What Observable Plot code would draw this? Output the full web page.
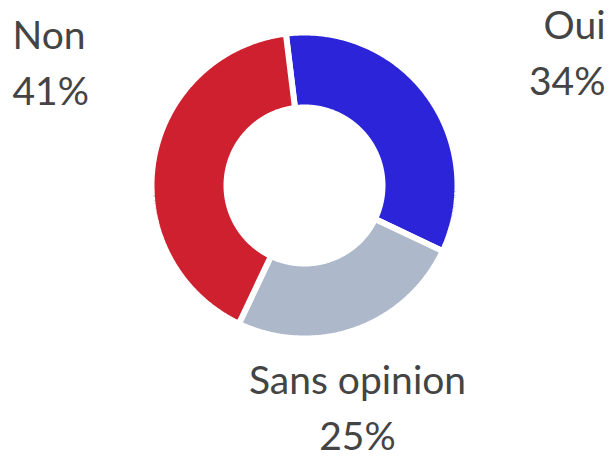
<!DOCTYPE html>
<html>
<head>
<meta charset="utf-8">
<script src="https://cdn.jsdelivr.net/npm/d3@7"></script>
<script src="https://cdn.jsdelivr.net/npm/@observablehq/plot@0.6"></script>
<style>
  html, body { margin: 0; padding: 0; background: #fff; }
  #chart svg { display: block; }
</style>
</head>
<body>
<div id="chart"></div>
<script>
// ---- data ----
const categories = ["Oui", "Sans opinion", "Non"];
const values = [34, 25, 41];
const valueLabels = ["34%", "25%", "41%"];
const colors = ["#2b24d9", "#adb8ca", "#cf2030"];

// ---- layout (pixels) ----
const W = 616, H = 456;
const cx = 304, cy = 185;
const outerR = 153, innerR = 78, gap = 6;
const startAngle = -7; // degrees, clockwise from top
const labelPos = {
  "Non":          {x: 12,  y: 104, anchor: "start"},
  "Oui":          {x: 605, y: 94,  anchor: "end"},
  "Sans opinion": {x: 357, y: 449, anchor: "middle"}
};

// build slice polygons from the values
const total = d3.sum(values);
const pts = [];
let acc = 0;
categories.forEach((c, i) => {
  const a0 = (startAngle + acc / total * 360) * Math.PI / 180;
  acc += values[i];
  const a1 = (startAngle + acc / total * 360) * Math.PI / 180;
  const n = Math.max(8, Math.ceil((a1 - a0) * 180 / Math.PI * 2));
  for (let k = 0; k <= n; k++) {
    const a = a0 + (a1 - a0) * k / n;
    pts.push({cat: c, x: cx + outerR * Math.sin(a), y: cy - outerR * Math.cos(a)});
  }
  for (let k = n; k >= 0; k--) {
    const a = a0 + (a1 - a0) * k / n;
    pts.push({cat: c, x: cx + innerR * Math.sin(a), y: cy - innerR * Math.cos(a)});
  }
});

const labels = categories.map((c, i) => ({
  cat: c,
  text: c + "\n" + valueLabels[i],
  ...labelPos[c]
}));

const chart = Plot.plot({
  width: W,
  height: H,
  margin: 0,
  x: {domain: [0, W], range: [0, W], axis: null},
  y: {domain: [0, H], range: [0, H], axis: null},
  color: {domain: categories, range: colors},
  style: {background: "#fff"},
  marks: [
    Plot.line(pts, {
      x: "x", y: "y", z: "cat", fill: "cat",
      stroke: "white", strokeWidth: gap,
      strokeLinejoin: "miter", curve: "linear-closed"
    }),
    ...labels.map(l => Plot.text([l], {
      x: "x", y: "y", text: "text",
      textAnchor: l.anchor, lineAnchor: "bottom",
      lineHeight: 1.42,
      fontSize: 39, fontFamily: "Lato", fill: "#444"
    }))
  ]
});
document.getElementById("chart").appendChild(chart);
</script>
</body>
</html>
